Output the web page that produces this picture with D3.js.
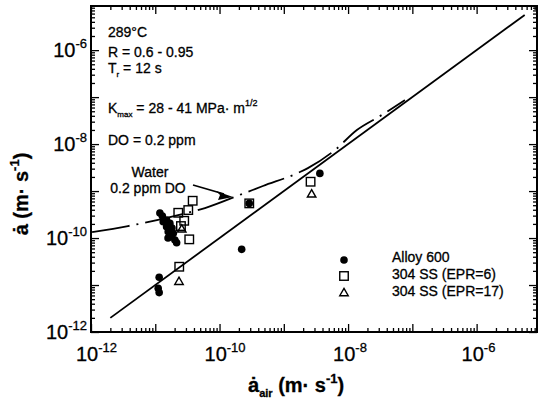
<!DOCTYPE html>
<html>
<head>
<meta charset="utf-8">
<script src="https://cdn.jsdelivr.net/npm/d3@7"></script>
<style>
  body { margin: 0; background: #fff; }
  svg { display: block; }
  text { font-family: "Liberation Sans", Arial, Helvetica, sans-serif; fill: #000; stroke: #000; stroke-width: 0.3px; }
</style>
</head>
<body>
<svg id="chart" width="538" height="404"></svg>
<script>
// Fatigue crack growth rate in 289°C water vs. rate in air

// Alloy 600 (filled circles): [rate in air, rate in water], m/s
const alloy600 = [
  [1.15e-11, 1.46e-11], [1.11e-11, 8.5e-12], [1.15e-11, 6.9e-12],
  [2.21e-10, 5.75e-11], [3.64e-9, 2.38e-9], [2.9e-10, 5.47e-10],
  [1.29e-11, 2.94e-10], [1.33e-11, 2.22e-10], [1.50e-11, 1.74e-10],
  [1.59e-11, 1.36e-10], [1.69e-11, 1.16e-10], [1.80e-11, 1.07e-10],
  [2.02e-11, 9.06e-11], [2.15e-11, 7.94e-11], [1.50e-11, 2.42e-10],
  [1.69e-11, 2.05e-10], [1.91e-11, 1.26e-10], [1.18e-11, 3.40e-10],
  [1.82e-11, 1.63e-10], [1.58e-11, 1.00e-10]
];

// 304 SS, EPR = 6 (open squares)
const ss304epr6 = [
  [2.36e-11, 2.45e-11], [3.38e-11, 9.38e-11], [3.82e-11, 6.22e-10],
  [3.26e-11, 3.94e-10], [2.28e-11, 3.45e-10], [2.82e-11, 2.33e-10],
  [2.51e-11, 1.80e-10], [2.9e-10, 5.47e-10], [2.61e-9, 1.58e-9]
];

// 304 SS, EPR = 17 (open triangles)
const ss304epr17 = [
  [2.34e-11, 1.23e-11], [2.71e-9, 8.93e-10], [2.58e-11, 1.61e-10]
];

// Line of equal rates (water = air)
const equalRateX = [2.0e-12, 5.6e-6];

// Water, 0.2 ppm DO trend (dash-dot)
const waterCurve = [
  [1.04e-12, 1.34e-10], [3.76e-12, 1.80e-10], [1.69e-11, 2.80e-10],
  [5.93e-11, 4.35e-10], [2.23e-10, 8.63e-10], [4.73e-10, 1.28e-9],
  [1.78e-9, 2.54e-9], [2.37e-9, 3.08e-9], [6.24e-9, 7.45e-9],
  [1.37e-8, 1.99e-8], [3.13e-8, 3.94e-8], [7.64e-8, 8.63e-8]
];

// Labelled decades on both axes (exponents)
const xLabelExp = [-12, -10, -8, -6];
const yLabelExp = [-12, -10, -8, -6];

const legendItems = ["Alloy 600", "304 SS (EPR=6)", "304 SS (EPR=17)"];

const svg = d3.select("#chart");
svg.append("rect").attr("width", 538).attr("height", 404).attr("fill", "#fff");

const x = d3.scaleLog().domain([1e-12, 8.7e-6]).range([91, 537]);
const y = d3.scaleLog().domain([1e-12, 8.7e-6]).range([332, 6]);

const [x0, x1] = x.range();
const [y0, y1] = y.range();

// ---- ticks on all four sides, pointing inward ----
const allX = x.ticks();
const allY = y.ticks();
const isDecade = v => Math.abs(Math.log10(v) - Math.round(Math.log10(v))) < 1e-9;
const majX = allX.filter(isDecade), minX = allX.filter(v => !isDecade(v));
const majY = allY.filter(isDecade), minY = allY.filter(v => !isDecade(v));

function ticks(gen, tr, vals, len) {
  const g = svg.append("g").attr("transform", tr)
    .call(gen.tickValues(vals).tickSize(-len).tickFormat(""));
  g.select(".domain").remove();
  g.selectAll("line").attr("stroke", "#000").attr("stroke-width", 1.3);
}
ticks(d3.axisBottom(x), `translate(0,${y0})`, minX, 4);
ticks(d3.axisBottom(x), `translate(0,${y0})`, majX, 8);
ticks(d3.axisTop(x), `translate(0,${y1})`, minX, 4);
ticks(d3.axisTop(x), `translate(0,${y1})`, majX, 8);
ticks(d3.axisLeft(y), `translate(${x0},0)`, minY, 4);
ticks(d3.axisLeft(y), `translate(${x0},0)`, majY, 8);
ticks(d3.axisRight(y), `translate(${x1},0)`, minY, 4);
ticks(d3.axisRight(y), `translate(${x1},0)`, majY, 8);

svg.append("rect")
  .attr("x", x0).attr("y", y1).attr("width", x1 - x0).attr("height", y0 - y1)
  .attr("fill", "none").attr("stroke", "#000").attr("stroke-width", 2);

// ---- tick labels ----
xLabelExp.forEach(e => {
  const t = svg.append("text").attr("x", x(Math.pow(10, e)) - 15).attr("y", 361)
    .attr("font-size", 20);
  t.append("tspan").text("10");
  t.append("tspan").attr("font-size", 13).attr("dy", -9).text(String(e));
});
yLabelExp.forEach(e => {
  const t = svg.append("text").attr("x", 87).attr("y", y(Math.pow(10, e)) + 7)
    .attr("text-anchor", "end").attr("font-size", 20);
  t.append("tspan").text("10");
  t.append("tspan").attr("font-size", 13).attr("dy", -9).text(String(e));
});

// ---- axis titles ----
const xt = svg.append("text").attr("x", 248).attr("y", 392)
  .attr("font-size", 20).attr("font-weight", "bold");
xt.append("tspan").text("\u0227");
xt.append("tspan").attr("font-size", 11).attr("dy", 5).text("air");
xt.append("tspan").attr("dy", -5).text(" (m\u00b7 s");
xt.append("tspan").attr("font-size", 13).attr("dy", -9).text("-1");
xt.append("tspan").attr("dy", 9).text(")");

const yt = svg.append("text")
  .attr("transform", "translate(28,194) rotate(-90)")
  .attr("text-anchor", "middle").attr("font-size", 20).attr("font-weight", "bold");
yt.append("tspan").text("\u0227 (m\u00b7 s");
yt.append("tspan").attr("font-size", 13).attr("dy", -9).text("-1");
yt.append("tspan").attr("dy", 9).text(")");

// ---- lines ----
const line = d3.line().x(d => x(d[0])).y(d => y(d[1]));
svg.append("path")
  .datum(equalRateX.map(v => [v, v]))
  .attr("d", line).attr("fill", "none").attr("stroke", "#000").attr("stroke-width", 1.8);

svg.append("path")
  .datum(waterCurve)
  .attr("d", line.curve(d3.curveMonotoneX)).attr("fill", "none")
  .attr("stroke", "#000").attr("stroke-width", 1.8)
  .attr("stroke-dasharray", "38,7,2,7");

// ---- markers ----
const sq = 8.5, tri = 8.5;
function circle(g, cx, cy) {
  g.append("circle").attr("cx", cx).attr("cy", cy).attr("r", 3.8).attr("fill", "#000");
}
function square(g, cx, cy) {
  g.append("rect").attr("x", cx - sq / 2).attr("y", cy - sq / 2)
    .attr("width", sq).attr("height", sq)
    .attr("fill", "none").attr("stroke", "#000").attr("stroke-width", 1.4);
}
function triangle(g, cx, cy) {
  const h = tri * 0.87;
  g.append("path")
    .attr("d", `M${cx},${cy - h / 2}L${cx + tri / 2},${cy + h / 2}L${cx - tri / 2},${cy + h / 2}Z`)
    .attr("fill", "none").attr("stroke", "#000").attr("stroke-width", 1.4);
}
const gm = svg.append("g");
alloy600.forEach(d => circle(gm, x(d[0]), y(d[1])));
ss304epr6.forEach(d => square(gm, x(d[0]), y(d[1])));
ss304epr17.forEach(d => triangle(gm, x(d[0]), y(d[1])));

// ---- test conditions ----
const ann = svg.append("g").attr("font-size", 14);
ann.append("text").attr("x", 108).attr("y", 37).text("289\u00b0C");
ann.append("text").attr("x", 108).attr("y", 57).text("R = 0.6 - 0.95");
const tr = ann.append("text").attr("x", 108).attr("y", 73);
tr.append("tspan").text("T");
tr.append("tspan").attr("font-size", 8).attr("dy", 4).text("r");
tr.append("tspan").attr("dy", -4).text(" = 12 s");
const km = ann.append("text").attr("x", 108).attr("y", 113);
km.append("tspan").text("K");
km.append("tspan").attr("font-size", 8).attr("dy", 4).text("max");
km.append("tspan").attr("dy", -4).text(" = 28 - 41 MPa\u00b7 m");
km.append("tspan").attr("font-size", 9).attr("dy", -7).text("1/2");
ann.append("text").attr("x", 108).attr("y", 145).text("DO = 0.2 ppm");
ann.append("text").attr("x", 150).attr("y", 177).attr("text-anchor", "middle").text("Water");
ann.append("text").attr("x", 148).attr("y", 193).attr("text-anchor", "middle").text("0.2 ppm DO");

// arrow pointing at the water trend
svg.append("line").attr("x1", 193).attr("y1", 185).attr("x2", 224).attr("y2", 194)
  .attr("stroke", "#000").attr("stroke-width", 1.8);
svg.append("path").attr("d", "M233,197 L216,191 L220,195 L218,200 Z").attr("fill", "#000");

// ---- legend ----
const lg = svg.append("g").attr("font-size", 14);
const legendY = [262, 279, 296];
circle(lg, 344, legendY[0] - 2);
square(lg, 344, legendY[1] - 3);
triangle(lg, 344, legendY[2] - 4);
legendItems.forEach((t, i) => lg.append("text").attr("x", 392).attr("y", legendY[i]).text(t));
</script>
</body>
</html>
